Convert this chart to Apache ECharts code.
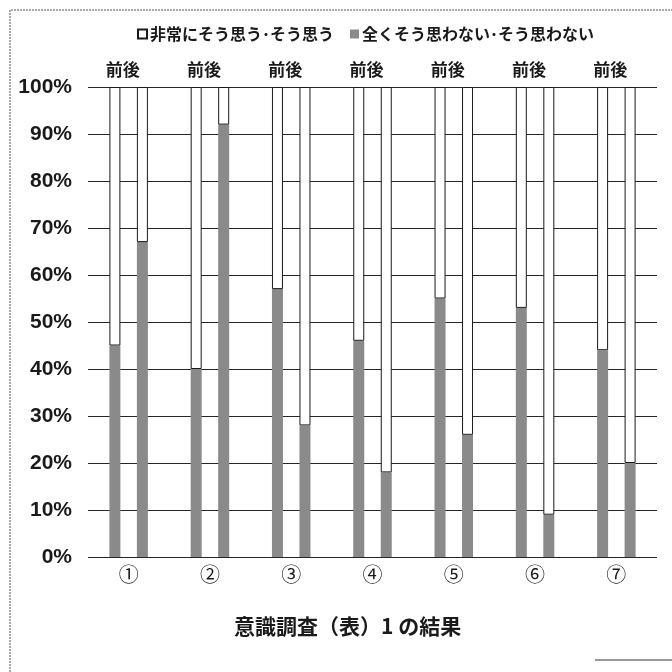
<!DOCTYPE html>
<html>
<head>
<meta charset="utf-8">
<script src="https://cdn.jsdelivr.net/npm/echarts@6/dist/echarts.min.js"></script>
<style>
  html, body { margin: 0; padding: 0; background: #fff; }
  #chart { width: 672px; height: 672px; }
</style>
</head>
<body>
<div id="chart"></div>
<script>
// Survey items and before/after response shares (percent)
const categories = ['①', '②', '③', '④', '⑤', '⑥', '⑦'];
const pairTags = ['前後', '前後', '前後', '前後', '前後', '前後', '前後'];
const agreeName = '非常にそう思う･そう思う';
const disagreeName = '全くそう思わない･そう思わない';
const disagreeBefore = [45, 40, 57, 46, 55, 53, 44];
const agreeBefore = [55, 60, 43, 54, 45, 47, 56];
const disagreeAfter = [67, 92, 28, 18, 26, 9, 20];
const agreeAfter = [33, 8, 72, 82, 74, 91, 80];
const yTicks = [0, 10, 20, 30, 40, 50, 60, 70, 80, 90, 100];
const chartTitle = '意識調査（表）1 の結果';

const JP = '"Noto Sans CJK JP", "Liberation Sans", sans-serif';
const NUM = '"Liberation Sans", "Noto Sans CJK JP", sans-serif';
const GRAY = '#8a8a8a';
const INK = '#1a1a1a';

function barSeries(name, stack, data, isAgree) {
  return {
    name: name,
    type: 'bar',
    stack: stack,
    data: data,
    barWidth: 11,
    barGap: '150%',
    itemStyle: isAgree
      ? { color: '#ffffff', borderColor: INK, borderWidth: 1 }
      : { color: GRAY },
    emphasis: { disabled: true }
  };
}

const chart = echarts.init(document.getElementById('chart'), null, { renderer: 'canvas' });
chart.setOption({
  animation: false,
  backgroundColor: '#ffffff',
  legend: {
    data: [
      { name: agreeName, icon: 'rect' },
      { name: disagreeName, icon: 'rect' }
    ],
    left: 132,
    top: 21,
    itemWidth: 9,
    itemHeight: 9,
    itemGap: 16,
    textStyle: { fontFamily: JP, fontSize: 16, fontWeight: 'bold', color: INK, padding: [0, 0, 0, -2] },
    selectedMode: false
  },
  grid: { left: 88, right: 15, top: 87, bottom: 115, containLabel: false },
  xAxis: [
    {
      type: 'category',
      data: categories,
      position: 'bottom',
      axisLine: { show: false },
      axisTick: { show: false },
      axisLabel: { fontFamily: JP, fontSize: 20, color: INK, margin: 7 }
    },
    {
      type: 'category',
      data: pairTags,
      position: 'top',
      axisLine: { show: false },
      axisTick: { show: false },
      axisLabel: {
        fontFamily: JP, fontSize: 17, fontWeight: 'bold', color: INK,
        margin: 9, padding: [0, 12, 0, 0]
      }
    }
  ],
  yAxis: {
    type: 'value',
    min: yTicks[0],
    max: yTicks[yTicks.length - 1],
    interval: 10,
    axisLine: { show: false },
    axisTick: { show: false },
    axisLabel: {
      formatter: '{value}%',
      fontFamily: NUM,
      fontSize: 21,
      fontWeight: 'bold',
      color: INK,
      margin: 16
    },
    splitLine: { lineStyle: { color: '#262626', width: 1.2 } }
  },
  series: [
    barSeries(disagreeName, 'before', disagreeBefore, false),
    barSeries(agreeName, 'before', agreeBefore, true),
    barSeries(disagreeName, 'after', disagreeAfter, false),
    barSeries(agreeName, 'after', agreeAfter, true)
  ],
  graphic: [
    {
      type: 'text',
      x: 234,
      y: 616,
      style: { text: chartTitle, font: 'bold 21px ' + JP, fill: INK }
    },
    {
      type: 'polyline',
      shape: { points: [[10, 672], [10, 10], [672, 10]] },
      style: { stroke: '#555', lineWidth: 1, lineDash: [2, 1], fill: null }
    },
    {
      type: 'line',
      shape: { x1: 595, y1: 660, x2: 672, y2: 660 },
      style: { stroke: '#333', lineWidth: 1.2 }
    }
  ]
});
</script>
</body>
</html>
